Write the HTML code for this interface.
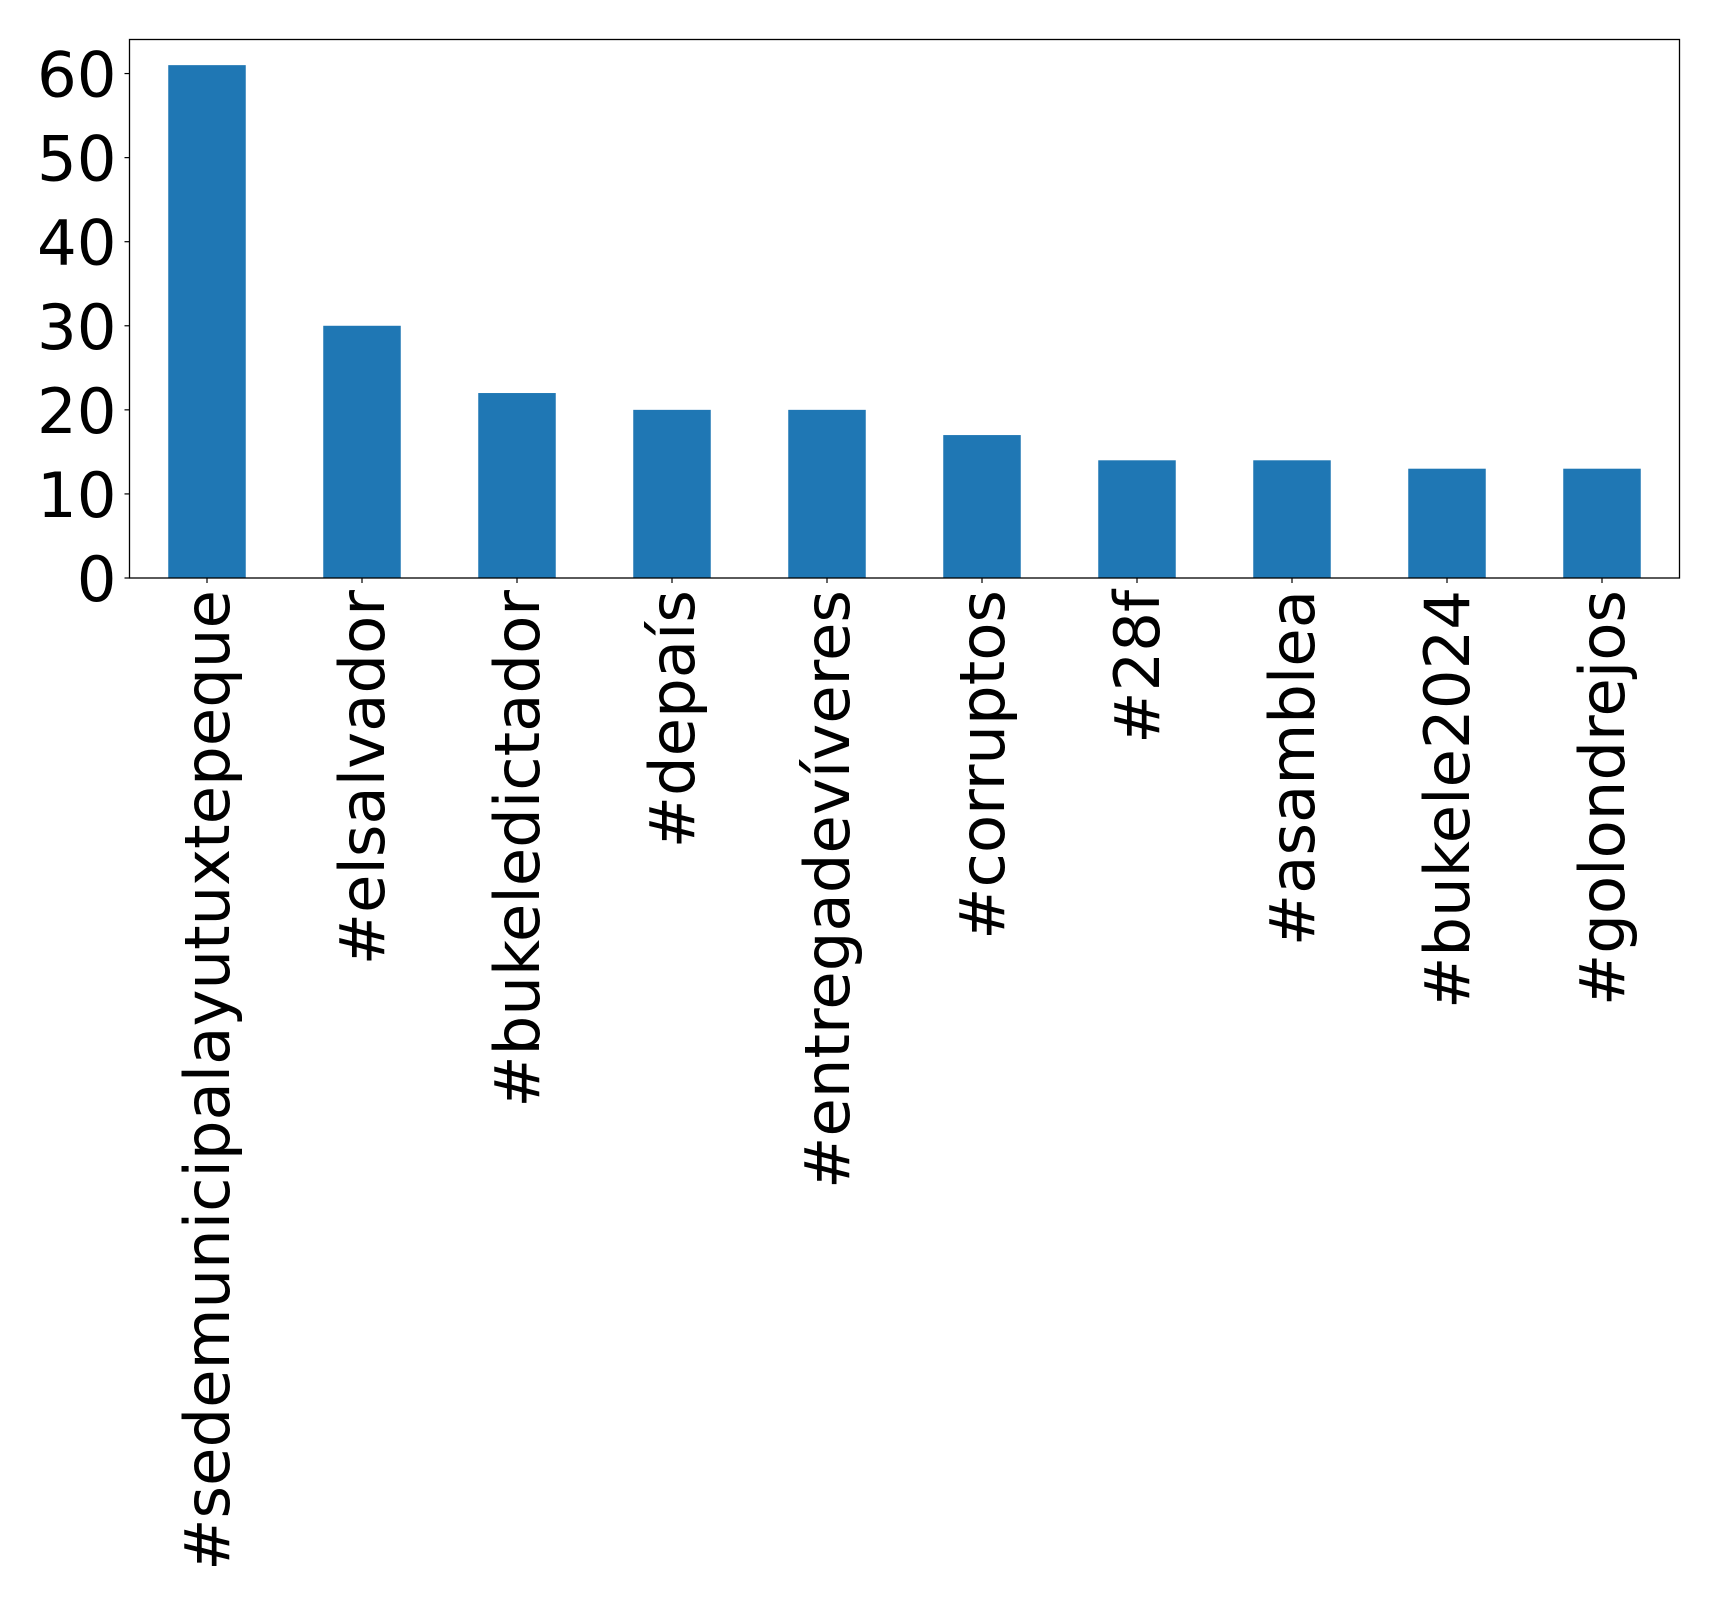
<!DOCTYPE html>
<html><head><meta charset="utf-8"><style>
html,body{margin:0;padding:0;background:#fff;}
svg{display:block;font-family:"DejaVu Sans","Liberation Sans",sans-serif;}
</style></head><body>
<svg id="chart" width="1719" height="1608" viewBox="0 0 1719 1608" xmlns="http://www.w3.org/2000/svg">
<rect x="0" y="0" width="1719" height="1608" fill="#fff"/>
<g id="bars"></g>
<g id="yaxis"></g>
<g id="xaxis"></g>
<rect x="129.5" y="39.5" width="1550" height="538.5" fill="none" stroke="#000" stroke-width="1.3"/>
</svg>
<script>
const categories = ["#sedemunicipalayutuxtepeque","#elsalvador","#bukeledictador","#depaís","#entregadevíveres","#corruptos","#28f","#asamblea","#bukele2024","#golondrejos"];
const counts = [61,30,22,20,20,17,14,14,13,13];
const yTicks = [0,10,20,30,40,50,60];
const yTickLabels = ["0","10","20","30","40","50","60"];

const NS = "http://www.w3.org/2000/svg";
const L = 129.5, R = 1679.5, T = 39.5, B = 578;
const yMax = Math.max(...counts) * 1.05;
const n = categories.length;
const step = (R - L) / n;
function xScale(i){ return L + step * (i + 0.5); }
function yScale(v){ return B - (v / yMax) * (B - T); }
const barW = step * 0.5;

const bars = document.getElementById('bars');
const yaxis = document.getElementById('yaxis');
const xaxis = document.getElementById('xaxis');

counts.forEach((v, i) => {
  const r = document.createElementNS(NS, 'rect');
  
  
  r.setAttribute('x', xScale(i) - barW / 2);
  r.setAttribute('y', yScale(v));
  r.setAttribute('width', barW);
  r.setAttribute('height', B - yScale(v));
  r.setAttribute('fill', '#1f77b4');
  bars.appendChild(r);
});

yTicks.forEach((t, i) => {
  const y = yScale(t);
  const ln = document.createElementNS(NS, 'line');
  
  
  ln.setAttribute('x1', L - 5); ln.setAttribute('x2', L);
  ln.setAttribute('y1', y); ln.setAttribute('y2', y);
  ln.setAttribute('stroke', '#000'); ln.setAttribute('stroke-width', '1.2');
  yaxis.appendChild(ln);
  const tx = document.createElementNS(NS, 'text');
  
  
  tx.setAttribute('x', L - 13);
  tx.setAttribute('y', y + 23);
  tx.setAttribute('text-anchor', 'end');
  tx.setAttribute('font-size', '62.5');
  tx.textContent = yTickLabels[i];
  yaxis.appendChild(tx);
});

categories.forEach((c, i) => {
  const x = xScale(i);
  const ln = document.createElementNS(NS, 'line');
  
  
  ln.setAttribute('x1', x); ln.setAttribute('x2', x);
  ln.setAttribute('y1', B); ln.setAttribute('y2', B + 5);
  ln.setAttribute('stroke', '#000'); ln.setAttribute('stroke-width', '1.2');
  xaxis.appendChild(ln);
  const tx = document.createElementNS(NS, 'text');
  
  
  const bx = x + 22, by = B + 12;
  tx.setAttribute('x', bx);
  tx.setAttribute('y', by);
  tx.setAttribute('transform', 'rotate(-90 ' + bx + ' ' + by + ')');
  tx.setAttribute('text-anchor', 'end');
  tx.setAttribute('font-size', '62.5');
  tx.textContent = c;
  xaxis.appendChild(tx);
});
</script>
</body></html>
